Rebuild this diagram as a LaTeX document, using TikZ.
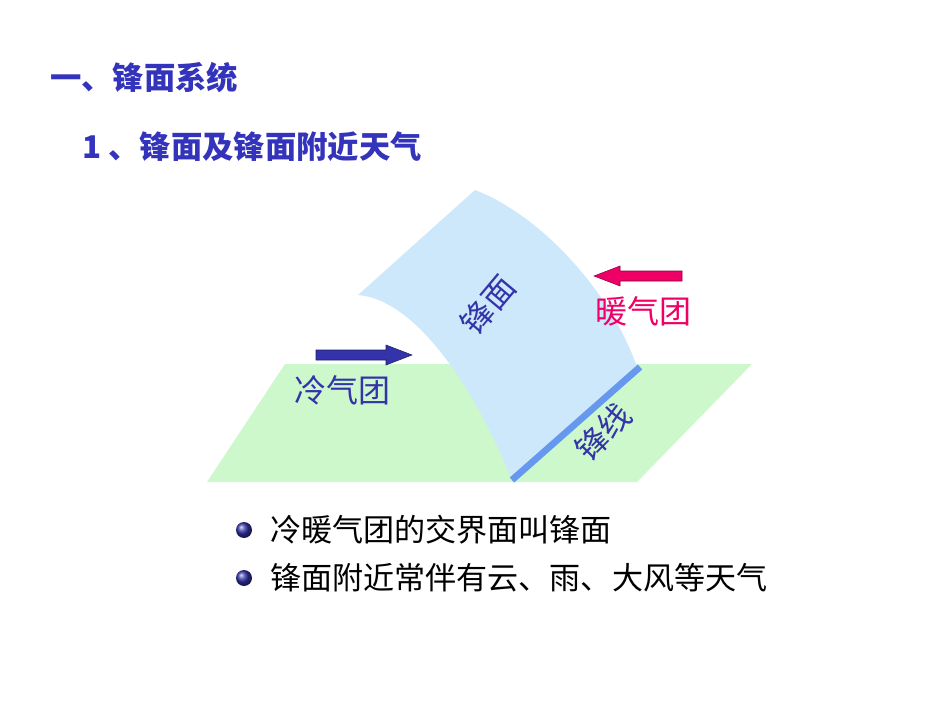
\documentclass[tikz,border=0pt]{standalone}
\usepackage{fontspec}
\setmainfont{Noto Sans CJK SC}
\definecolor{ttl}{HTML}{3333BB}
\definecolor{cold}{HTML}{3333AA}
\definecolor{warm}{HTML}{EE0066}
\definecolor{grn}{HTML}{CCF8CC}
\definecolor{sky}{HTML}{CCE8FA}
\definecolor{fline}{HTML}{6699EE}
\tikzset{lbl/.style={font=\fontsize{24}{28}\selectfont,inner sep=0pt},
 ttlt/.style={font=\fontsize{23.5}{27}\selectfont\bfseries,text=ttl,anchor=west,inner sep=0pt},
 bul/.style={font=\fontsize{23.3}{27}\selectfont,anchor=west,inner sep=0pt},
 dot/.style={circle,minimum size=12pt,inner sep=0pt,shading=ball,ball color=cold}}
\begin{document}
\begin{tikzpicture}[x=0.75pt,y=-0.75pt]
\useasboundingbox (0,0) rectangle (950,713);
\fill[grn] (285,364) -- (752,364) -- (637,482) -- (207,482) -- cycle;
\fill[sky] (475,190) .. controls (540,215) and (610,290) .. (637,367)
  -- (512,480) .. controls (480,400) and (420,300) .. (358,295)
  -- (475,190) -- cycle;
\draw[fline,line width=5pt] (512,480) -- (640,367);
\coordinate (ca) at (316,355);
\coordinate (wa) at (682,276);
\filldraw[fill=cold,draw=cold!60!black] (ca) ++(0,-5) -- ++(70,0) -- ++(0,-5) -- ++(26,10) -- ++(-26,10) -- ++(0,-5) -- ++(-70,0) -- cycle;
\filldraw[fill=warm,draw=warm!60!black] (wa) ++(0,-5) -- ++(-62,0) -- ++(0,-5) -- ++(-26,10) -- ++(26,10) -- ++(0,-5) -- ++(62,0) -- cycle;
\node[lbl,text=cold,rotate=50] (fm) at (488,305) {锋面};
\node[lbl,text=warm] (nq) at (643,311) {暖气团};
\node[lbl,text=cold] (lq) at (342,390) {冷气团};
\node[lbl,text=cold,rotate=45] (fx) at (603,432) {锋线};
\node[ttlt] (t1) at (50,78) {一、锋面系统};
\node[ttlt] (t2) at (82,147) {1 、锋面及锋面附近天气};
\node[dot] (d1) at (244,530) {};
\node[dot] (d2) at (244,578) {};
\node[bul] (b1) at (270,530) {冷暖气团的交界面叫锋面};
\node[bul] (b2) at (270,578) {锋面附近常伴有云、雨、大风等天气};
\end{tikzpicture}
\end{document}
